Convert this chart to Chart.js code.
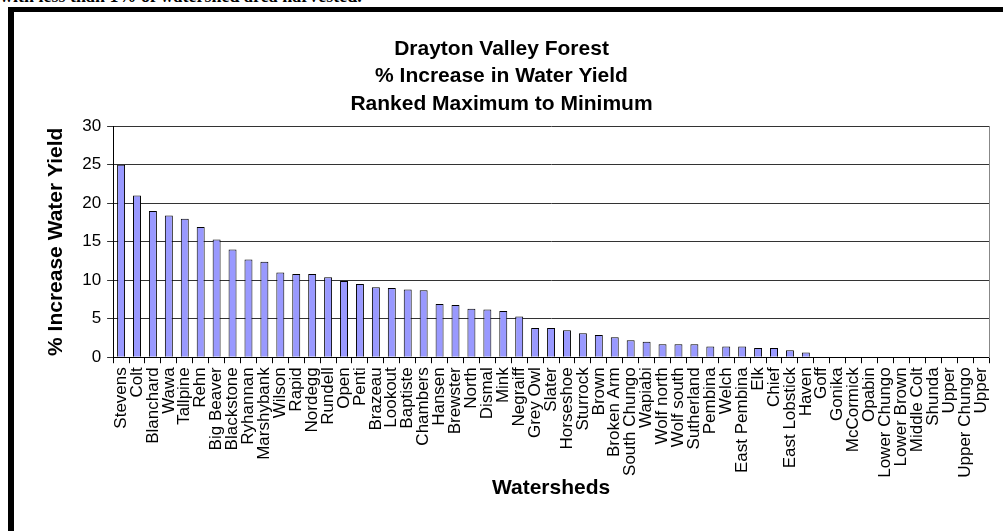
<!DOCTYPE html>
<html>
<head>
<meta charset="utf-8">
<script src="https://cdn.jsdelivr.net/npm/chart.js@4.4.1/dist/chart.umd.min.js"></script>
<style>
  html, body { margin: 0; padding: 0; background: #fff; overflow: hidden; }
  body { width: 1003px; height: 531px; position: relative; }
  #note {
    position: absolute; left: 0; top: -13px; white-space: nowrap;
    font: bold 18px/18px "Liberation Serif", "Times New Roman", serif; color: #000;
  }
  #frame {
    position: absolute; left: 8px; top: 7px; width: 1100px; height: 600px;
    border-top: 5px solid #000; border-left: 6px solid #000;
  }
  #chart { position: absolute; left: 14px; top: 12px; }
</style>
</head>
<body>
<div id="note">with less than 1% of watershed area harvested.</div>
<div id="frame"></div>
<canvas id="chart" width="996" height="519"></canvas>
<script>
const watersheds = [
  "Stevens", "Colt", "Blanchard", "Wawa", "Tallpine", "Rehn", "Big Beaver",
  "Blackstone", "Ryhannan", "Marshybank", "Wilson", "Rapid", "Nordegg",
  "Rundell", "Open", "Penti", "Brazeau", "Lookout", "Baptiste", "Chambers",
  "Hansen", "Brewster", "North", "Dismal", "Mink", "Negraiff", "Grey Owl",
  "Slater", "Horseshoe", "Sturrock", "Brown", "Broken Arm", "South Chungo",
  "Wapiabi", "Wolf north", "Wolf south", "Sutherland", "Pembina", "Welch",
  "East Pembina", "Elk", "Chief", "East Lobstick", "Haven", "Goff", "Gonika",
  "McCormick", "Opabin", "Lower Chungo", "Lower Brown", "Middle Colt",
  "Shunda", "Upper", "Upper Chungo", "Upper",
];

const yieldIncrease = [
  25.0, 21.0, 19.0, 18.4, 18.0, 16.9, 15.3,
  14.0, 12.7, 12.4, 11.0, 10.8, 10.8,
  10.4, 9.9, 9.5, 9.1, 9.0, 8.8, 8.7,
  6.9, 6.8, 6.3, 6.2, 6.0, 5.3, 3.8,
  3.8, 3.5, 3.1, 2.9, 2.6, 2.2,
  2.0, 1.7, 1.7, 1.7, 1.4, 1.4,
  1.4, 1.2, 1.2, 0.9, 0.6, 0, 0,
  0, 0, 0, 0, 0,
  0, 0, 0, 0,
];

const titleLines = [
  "Drayton Valley Forest",
  "% Increase in Water Yield",
  "Ranked Maximum to Minimum",
];

const yTicks = [0, 5, 10, 15, 20, 25, 30];

const fontFamily = "'Liberation Sans', Arial, sans-serif";

const data = {
  labels: watersheds,
  datasets: [
    {
      label: "% Increase Water Yield",
      data: yieldIncrease,
      backgroundColor: "#9999ff",
      borderColor: "#000",
      borderWidth: 1,
      borderSkipped: "bottom",
      categoryPercentage: 1,
      barPercentage: 0.5,
    },
  ],
};

const config = {
  type: "bar",
  data,
  options: {
    responsive: false,
    devicePixelRatio: 1,
    animation: false,
    layout: {
      padding: { left: 0, right: 21, top: 0, bottom: 30 },
    },
    plugins: {
      legend: { display: false },
      tooltip: { enabled: false },
      title: {
        display: true,
        text: titleLines,
        color: "#000",
        font: { family: fontFamily, size: 21, weight: "bold", lineHeight: 1.29 },
        padding: { top: 24, bottom: 9 },
      },
    },
    scales: {
      x: {
        grid: {
          drawOnChartArea: false,
          drawTicks: true,
          tickLength: 6,
          color: "#000",
        },
        border: { color: "#000", width: 1 },
        ticks: {
          autoSkip: false,
          maxRotation: 90,
          minRotation: 90,
          padding: 4,
          color: "#000",
          font: { family: fontFamily, size: 17 },
        },
        title: {
          display: true,
          text: "Watersheds",
          color: "#000",
          font: { family: fontFamily, size: 21, weight: "bold" },
          padding: { top: -6, bottom: 0 },
        },
      },
      y: {
        min: 0,
        max: 30,
        afterBuildTicks: (scale) => {
          scale.ticks = yTicks.map((v) => ({ value: v }));
        },
        grid: {
          color: "#333",
          tickLength: 6,
        },
        border: { color: "#000", width: 1 },
        ticks: {
          padding: 6,
          color: "#000",
          font: { family: fontFamily, size: 17 },
        },
        title: {
          display: true,
          text: "% Increase Water Yield",
          color: "#000",
          font: { family: fontFamily, size: 21, weight: "bold" },
          padding: { top: 30, bottom: 7 },
        },
      },
      y1: {
        position: "right",
        min: 0,
        max: 30,
        grid: { drawOnChartArea: false, drawTicks: false },
        border: { color: "#888", width: 1 },
        ticks: { display: false },
      },
    },
  },
};

const myChart = new Chart(document.getElementById("chart"), config);
</script>
</body>
</html>
